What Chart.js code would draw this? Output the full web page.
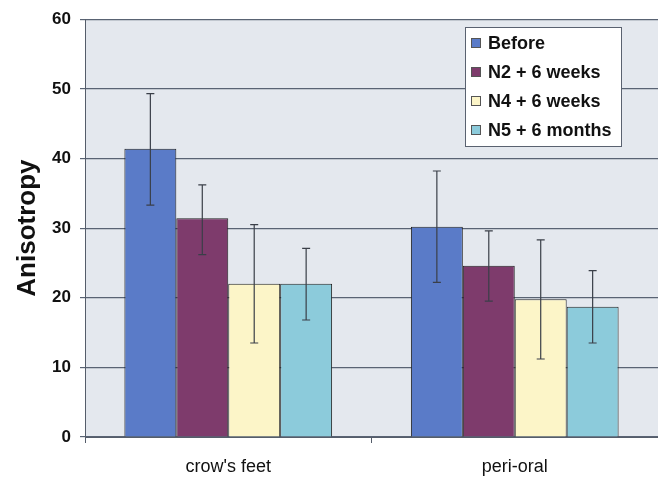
<!DOCTYPE html>
<html>
<head>
<meta charset="utf-8">
<script src="https://cdn.jsdelivr.net/npm/chart.js@4/dist/chart.umd.min.js"></script>
<style>
  html, body { margin: 0; padding: 0; background: #ffffff; }
  #wrap { width: 658px; height: 481px; }
</style>
</head>
<body>
<div id="wrap"><canvas id="chart" width="658" height="481"></canvas></div>
<script>
// Dados
const categorias = ["crow's feet", 'peri-oral'];
const series = ['Before', 'N2 + 6 weeks', 'N4 + 6 weeks', 'N5 + 6 months'];
const before = [41.4, 30.2];
const n2 = [31.4, 24.6];
const n4 = [22.0, 19.8];
const n5 = [22.0, 18.7];
// barras de erro (limite superior / inferior)
const beforeErr = [[49.3, 33.3], [38.2, 22.2]];
const n2Err = [[36.2, 26.2], [29.6, 19.5]];
const n4Err = [[30.5, 13.5], [28.3, 11.2]];
const n5Err = [[27.1, 16.8], [23.9, 13.5]];
const yTicks = [0, 10, 20, 30, 40, 50, 60];

const cores = ['#5a7bc8', '#7e3b6c', '#fcf5c8', '#8ccbdb'];
const valores = [before, n2, n4, n5];
const erros = [beforeErr, n2Err, n4Err, n5Err];
const fonte = '"Liberation Sans", Arial, sans-serif';

// fundo cinza da área do gráfico
const plotBg = {
    id: 'plotBg',
    beforeDraw(chart) {
        const { ctx, chartArea: a } = chart;
        ctx.save();
        ctx.fillStyle = '#e4e8ee';
        ctx.fillRect(a.left, a.top, a.right - a.left, a.bottom - a.top);
        ctx.restore();
    }
};

// barras de erro desenhadas a partir das escalas
const errorBars = {
    id: 'errorBars',
    afterDatasetsDraw(chart) {
        const ctx = chart.ctx;
        const y = chart.scales.y;
        ctx.save();
        ctx.strokeStyle = '#3a3f48';
        ctx.lineWidth = 1.2;
        chart.data.datasets.forEach((ds, i) => {
            const meta = chart.getDatasetMeta(i);
            meta.data.forEach((bar, j) => {
                const [hi, lo] = ds.errs[j];
                const x = bar.x;
                const yh = y.getPixelForValue(hi);
                const yl = y.getPixelForValue(lo);
                ctx.beginPath();
                ctx.moveTo(x, yh); ctx.lineTo(x, yl);
                ctx.moveTo(x - 4, yh); ctx.lineTo(x + 4, yh);
                ctx.moveTo(x - 4, yl); ctx.lineTo(x + 4, yl);
                ctx.stroke();
            });
        });
        ctx.restore();
    }
};

// legenda dentro da área, com caixa branca
const boxLegend = {
    id: 'boxLegend',
    afterDraw(chart) {
        const ctx = chart.ctx;
        const x0 = 465, y0 = 27, w = 156, h = 119;
        ctx.save();
        ctx.fillStyle = '#ffffff';
        ctx.fillRect(x0, y0, w, h);
        ctx.strokeStyle = '#5a6270';
        ctx.lineWidth = 1;
        ctx.strokeRect(x0 + 0.5, y0 + 0.5, w, h);
        ctx.font = 'bold 18px ' + fonte;
        ctx.textBaseline = 'middle';
        chart.data.datasets.forEach((ds, i) => {
            const cy = y0 + 16 + i * 29;
            ctx.fillStyle = ds.backgroundColor;
            ctx.fillRect(x0 + 6, cy - 5, 10, 10);
            ctx.strokeStyle = '#555';
            ctx.strokeRect(x0 + 6.5, cy - 4.5, 9, 9);
            ctx.fillStyle = '#111';
            ctx.fillText(ds.label, x0 + 23, cy + 1);
        });
        ctx.restore();
    }
};

new Chart(document.getElementById('chart'), {
    type: 'bar',
    data: {
        labels: categorias,
        datasets: series.map((nome, i) => ({
            label: nome,
            data: valores[i],
            errs: erros[i],
            backgroundColor: cores[i],
            borderColor: '#222',
            borderWidth: 1,
            categoryPercentage: 0.725,
            barPercentage: 1.0
        }))
    },
    options: {
        responsive: false,
        animation: false,
        layout: { padding: { top: 18, right: 0, left: 0, bottom: 0 } },
        plugins: { legend: { display: false }, tooltip: { enabled: false } },
        scales: {
            x: {
                grid: { offset: true, drawOnChartArea: false, drawTicks: true, tickLength: 6, color: '#555d6a' },
                border: { color: '#555d6a', width: 1 },
                ticks: { color: '#111', padding: 13, font: { size: 18, family: fonte } },
                afterFit(s) { s.height = 44; }
            },
            y: {
                min: 0, max: 60,
                afterBuildTicks(s) { s.ticks = yTicks.map(v => ({ value: v })); },
                grid: { color: '#596373', lineWidth: 1.2, tickLength: 5 },
                border: { color: '#555d6a', width: 1 },
                ticks: { color: '#111', padding: 9, font: { size: 17, weight: 'bold', family: fonte } },
                title: { display: true, text: 'Anisotropy', color: '#111', padding: { top: 12, bottom: 4 },
                    font: { size: 26, weight: 'bold', family: fonte } },
                afterFit(s) { s.width = 85; }
            }
        }
    },
    plugins: [plotBg, errorBars, boxLegend]
});
</script>
</body>
</html>
